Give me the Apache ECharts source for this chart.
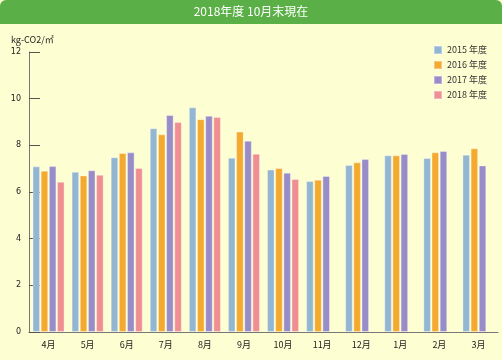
<!DOCTYPE html>
<html><head><meta charset="utf-8">
<script src="https://cdn.jsdelivr.net/npm/echarts@6/dist/echarts.min.js"></script>
<style>html,body{margin:0;padding:0;background:#fff;}#c{width:502px;height:360px;}</style>
</head><body><div id="c"></div>
<script>
const categories = ['4月','5月','6月','7月','8月','9月','10月','11月','12月','1月','2月','3月'];
const seriesNames = ['2015 年度','2016 年度','2017 年度','2018 年度'];
const v2015 = [7.10,6.87,7.49,8.73,9.63,7.47,6.96,6.47,7.16,7.57,7.46,7.60];
const v2016 = [6.91,6.71,7.67,8.47,9.12,8.59,7.03,6.53,7.27,7.57,7.70,7.87];
const v2017 = [7.11,6.93,7.70,9.30,9.27,8.20,6.83,6.69,7.41,7.63,7.76,7.14];
const v2018 = [6.44,6.74,7.03,9.00,9.21,7.64,6.56,null,null,null,null,null];
const yTicks = [0,2,4,6,8,10,12];
const colors = ['#93b6d2','#f4a92f','#988dc8','#ef8f91'];
const allVals = [v2015,v2016,v2017,v2018];

const chart = echarts.init(document.getElementById('c'));
chart.setOption({
  animation:false,
  backgroundColor:'#fefed3',
  graphic:[
    {type:'rect',left:0,top:0,shape:{width:502,height:24,r:[6,6,0,0]},style:{fill:'#5aaf46'},z:0},
    {type:'text',left:'center',top:5,style:{text:'2018年度 10月末現在',fill:'#fff',font:'12px "Noto Sans CJK JP", sans-serif'},z:1}
  ],
  legend:{
    orient:'vertical',left:428,top:40,itemWidth:8,itemHeight:8,itemGap:5,
    icon:'rect',
    textStyle:{fontSize:9,color:'#333',fontFamily:'"Noto Sans CJK JP", sans-serif'},
    data:seriesNames
  },
  grid:{left:29,right:4,top:52,bottom:28},
  xAxis:{
    type:'category',data:categories,
    axisLine:{lineStyle:{color:'#777'}},
    axisTick:{inside:true,length:8,lineStyle:{color:'#777'}},
    axisLabel:{fontSize:9,color:'#222',margin:8,fontFamily:'"Noto Sans CJK JP", sans-serif'}
  },
  yAxis:{
    type:'value',min:0,max:12,interval:2,
    name:'kg-CO2/㎡',nameLocation:'end',nameGap:8,
    nameTextStyle:{fontSize:9,color:'#222',align:'left',padding:[0,0,0,-18],fontFamily:'"Noto Sans CJK JP", sans-serif'},
    axisLine:{show:true,lineStyle:{color:'#777'}},
    axisTick:{show:true,inside:true,length:11,lineStyle:{color:'#555'}},
    axisLabel:{fontSize:8,color:'#222',margin:8,fontFamily:'"DejaVu Sans", sans-serif'},
    splitLine:{show:false}
  },
  series: allVals.map((d,i)=>({
    name:seriesNames[i],type:'bar',data:d,barGap:'8%',barCategoryGap:'18%',
    itemStyle:{color:colors[i],borderColor:'rgba(255,255,255,0.35)',borderWidth:1}
  }))
});
</script></body></html>
